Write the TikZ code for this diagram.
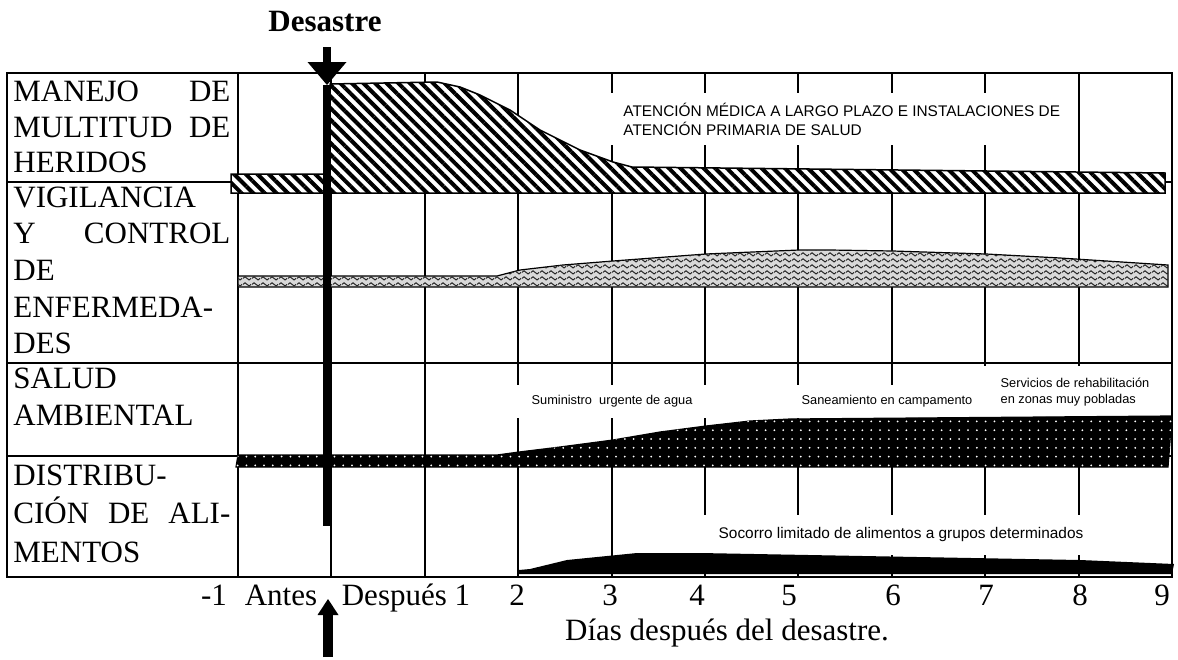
\documentclass[tikz,border=0pt]{standalone}
\usepackage{fontspec}
\setmainfont{Liberation Serif}
\newfontfamily\arialfont{Liberation Sans}
\usetikzlibrary{patterns.meta,arrows.meta}

\tikzdeclarepattern{
  name=wavelets,
  type=uncolored,
  bounding box={(0pt,0pt) and (4.5pt,3pt)},
  tile size={(4.5pt,3pt)},
  code={
    \draw[line width=0.55pt] (0pt,1.5pt) sin (1.125pt,2.4pt) cos (2.25pt,1.5pt) sin (3.375pt,0.6pt) cos (4.5pt,1.5pt);
  }
}

\tikzset{
  grid line/.style = {line width=1pt},
  lbl/.style = {font=\fontsize{15.5}{18}\selectfont, inner sep=0pt, anchor=base west},
  tick lbl/.style = {font=\fontsize{15.5}{18}\selectfont, inner sep=0pt, anchor=base},
  bignote/.style = {font=\arialfont\fontsize{7.7}{9.5}\selectfont, fill=white, inner sep=0pt},
  smallnote/.style = {font=\arialfont\fontsize{6.4}{8}\selectfont, fill=white, inner sep=0pt},
  hatchband/.style = {draw, line width=0.75pt, fill=white,
    postaction={pattern={Lines[angle=-45, distance=4.1pt, line width=2pt]}}},
  waveband/.style = {draw, line width=0.6pt, fill=black!15,
    postaction={pattern=wavelets, pattern color=black!85}},
  dotband/.style = {draw, line width=0.6pt, fill=black,
    postaction={pattern={Dots[distance=4.4pt, radius=0.5pt]}, pattern color=white}},
  bar/.style = {line width=4pt}
}

\begin{document}
\begin{tikzpicture}[x=0.5pt, y=-0.5pt]

	\useasboundingbox (0,0) rectangle (1178,659);

	% Frame + grid

	\draw [grid line] (7,73) rectangle (1172,577);
	\foreach \y in {182, 363, 456}
		\draw [grid line] (7,\y) -- (1172,\y);
	\foreach \k in {0,...,9}
		\draw [grid line] ({238+93.4*\k},73) -- ++(0,504);

	% Row labels

	\node [lbl] (manejo-1) at (13,101) {\makebox[108.5pt][l]{MANEJO\hfill DE}};
	\node [lbl] (manejo-2) at (13,137) {\makebox[108.5pt][l]{MULTITUD\hfill DE}};
	\node [lbl] (manejo-3) at (13,172) {HERIDOS};

	\node [lbl] (vigilancia-1) at (13,207) {VIGILANCIA};
	\node [lbl] (vigilancia-2) at (13,243) {\makebox[108.5pt][l]{Y\hfill CONTROL}};
	\node [lbl] (vigilancia-3) at (13,280) {DE};
	\node [lbl] (vigilancia-4) at (13,317) {ENFERMEDA-};
	\node [lbl] (vigilancia-5) at (13,353) {DES};

	\node [lbl] (salud-1) at (13,388) {SALUD};
	\node [lbl] (salud-2) at (13,425) {AMBIENTAL};

	\node [lbl] (distrib-1) at (13,485) {DISTRIBU-};
	\node [lbl] (distrib-2) at (13,523) {\makebox[108.5pt][l]{CIÓN\hfill DE\hfill ALI-}};
	\node [lbl] (distrib-3) at (13,562) {MENTOS};

	% Notes inside the chart

	\node [bignote, anchor=west, inner xsep=9pt, minimum height=26pt, align=left] (atencion) at (605,119)
		{ATENCIÓN MÉDICA A LARGO PLAZO E INSTALACIONES DE\\ATENCIÓN PRIMARIA DE SALUD};
	\node [smallnote, minimum width=100pt, minimum height=16.5pt] (agua) at (612,401) {Suministro\ \ urgente de agua};
	\node [smallnote, minimum width=95pt, minimum height=26pt, align=left] (servicios) at (1075,392)
		{Servicios de rehabilitación\\en zonas muy pobladas};
	\node [smallnote, minimum width=94pt, minimum height=16.5pt] (saneamiento) at (887,401) {Saneamiento en campamento};
	\node [bignote, minimum width=200pt, minimum height=20pt] (socorro) at (901,535)
		{Socorro limitado de alimentos a grupos determinados};

	% Bands

	\draw [hatchband] (231,174) -- (330,174) -- (330,84) -- (437,82) -- (460,87) -- (480,95) -- (510,110)
		-- (540,130) -- (580,150) -- (613,162) -- (632,167) -- (1165,173) -- (1165,193) -- (231,193) -- cycle;
	\draw [waveband] (238,276) -- (497,276) -- (520,270) -- (563,265) -- (613,261) -- (706,254) -- (799,250)
		-- (830,250) -- (893,251) -- (986,254) -- (1060,258) -- (1168,265) -- (1168,287) -- (238,287) -- cycle;
	\draw [dotband] (238,455) -- (497,455) -- (519,452) -- (560,447) -- (613,440) -- (660,432) -- (706,426)
		-- (750,421) -- (790,419) -- (1172,416) -- (1168,467) -- (236,467) -- cycle;
	\fill (519,570) -- (530,569) -- (567,560) -- (637,553) -- (700,553) -- (1080,560) -- (1174,564)
		-- (1172,574) -- (519,574) -- cycle;

	% Disaster marker

	\node [tick lbl, font=\bfseries\fontsize{15.5}{18}\selectfont] (desastre) at (325,31) {Desastre};
	\coordinate (d-top) at (327,47);
	\coordinate (d-tip) at (327,85);
	\coordinate (d-end) at (327,526);
	\draw [bar, -{Triangle[length=11.5pt, width=19.5pt, line width=0pt]}] (d-top) -- (d-tip);
	\draw [bar] (d-tip) -- (d-end);

	% Axis labels

	\foreach \t/\x in {-1/214, Antes/281, Después 1/406, 2/517, 3/610, 4/697, 5/789, 6/893, 7/986, 8/1080, 9/1162}
		\node [tick lbl] (tick-\x) at (\x,605) {\t};
	\node [tick lbl] (dias) at (727,640) {Días después del desastre.};

	\coordinate (a-tip) at (328,599);
	\coordinate (a-end) at (328,657);
	\draw [line width=5pt, -{Triangle[length=8pt, width=10.5pt, line width=0pt]}] (a-end) -- (a-tip);

\end{tikzpicture}
\end{document}
